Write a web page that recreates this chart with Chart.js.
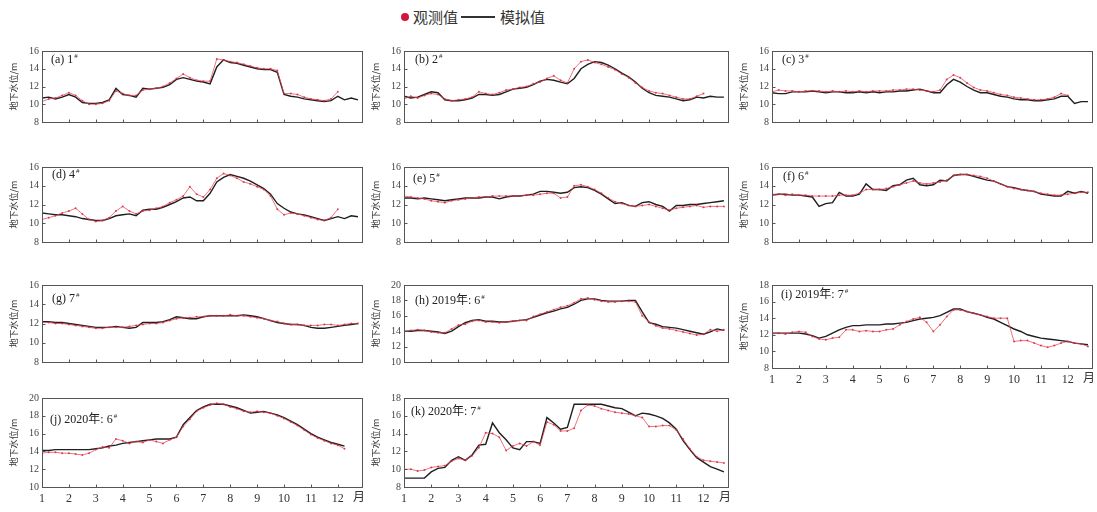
<!DOCTYPE html>
<html>
<head>
<meta charset="utf-8">
<script src="https://cdn.jsdelivr.net/npm/chart.js@4/dist/chart.umd.min.js"></script>
<style>
  html, body { margin: 0; padding: 0; background: #fff; }
  body { width: 1097px; height: 512px; position: relative; overflow: hidden; }
  .panel { position: absolute; }
  .legend-dot { position: absolute; left: 401px; top: 13px; width: 8px; height: 8px; border-radius: 50%; background: #d0163c; }
  .legend-line { position: absolute; left: 461px; top: 16px; width: 34px; height: 2px; background: #333; }
  .legend-text { position: absolute; top: 6px; font: 15px "Noto Sans CJK SC", sans-serif; color: #333; line-height: 22px; }
</style>
</head>
<body>
<div class="legend-dot"></div>
<div class="legend-text" style="left:413px">观测值</div>
<div class="legend-line"></div>
<div class="legend-text" style="left:500px">模拟值</div>

<script>
// Sampling positions along the year, in month units (1 = 1 January)
const MONTHS = [1, 1.25, 1.5, 1.75, 2, 2.25, 2.5, 2.75, 3, 3.25, 3.5, 3.75,
                4, 4.25, 4.5, 4.75, 5, 5.25, 5.5, 5.75, 6, 6.25, 6.5, 6.75,
                7, 7.25, 7.5, 7.75, 8, 8.25, 8.5, 8.75, 9, 9.25, 9.5, 9.75,
                10, 10.25, 10.5, 10.75, 11, 11.25, 11.5, 11.75, 12, 12.25, 12.5, 12.75];
const MONTH_TICKS = [1, 2, 3, 4, 5, 6, 7, 8, 9, 10, 11, 12];
const MONTH_UNIT = '月';
const X_END = 12.9;
const Y_TITLE = '地下水位/m';

// Groundwater level (m): simulated and observed, one pair per well
const simA = [10.7,10.8,10.6,10.8, 11.1,10.8,10.2,10.1, 10.1,10.2,10.5,11.8,
              11.1,11.0,10.8,11.8, 11.7,11.8,11.9,12.2, 12.8,13.0,12.8,12.6,
              12.5,12.3,14.2,15.0, 14.7,14.6,14.4,14.2, 14.0,13.9,13.9,13.6,
              11.1,10.9,10.8,10.6, 10.5,10.4,10.3,10.4, 10.9,10.5,10.7,10.5];
const obsA = [10.3,10.6,10.7,11.0, 11.3,11.0,10.4,10.0, 10.0,10.1,10.4,11.5,
              11.2,11.0,11.0,11.6, 11.7,11.8,12.0,12.4, 12.9,13.4,13.0,12.7,
              12.6,12.6,15.1,15.0, 14.8,14.7,14.5,14.3, 14.1,14.0,14.0,13.8,
              11.2,11.2,11.1,10.8, 10.6,10.5,10.4,10.6, 11.4,null,null,null];

const simB = [10.9,10.7,10.8,11.1, 11.4,11.3,10.5,10.4, 10.4,10.5,10.7,11.1,
              11.1,11.0,11.1,11.4, 11.7,11.8,11.9,12.2, 12.6,12.8,12.7,12.5,
              12.3,12.9,14.0,14.5, 14.8,14.7,14.4,14.0, 13.5,13.1,12.5,11.8,
              11.3,11.0,10.9,10.8, 10.6,10.4,10.5,10.8, 10.7,10.9,10.8,10.8];
const obsB = [10.6,10.9,10.7,11.0, 11.2,11.1,10.6,10.4, 10.5,10.6,10.8,11.4,
              11.2,11.1,11.3,11.6, 11.7,11.9,12.0,12.3, 12.5,12.9,13.2,12.7,
              12.4,14.0,14.8,15.0, 14.7,14.5,14.2,13.9, 13.4,13.0,12.4,11.9,
              11.5,11.3,11.2,11.0, 10.8,10.6,10.6,10.9, 11.2,null,null,null];

const simC = [11.3,11.2,11.2,11.4, 11.4,11.4,11.5,11.4, 11.3,11.4,11.4,11.3,
              11.3,11.4,11.3,11.4, 11.3,11.4,11.4,11.5, 11.5,11.6,11.7,11.5,
              11.3,11.3,12.2,12.8, 12.5,12.0,11.6,11.3, 11.3,11.1,10.9,10.8,
              10.6,10.5,10.5,10.4, 10.4,10.5,10.6,10.9, 10.9,10.1,10.3,10.3];
const obsC = [11.4,11.6,11.5,11.5, 11.4,11.5,11.5,11.5, 11.4,11.5,11.4,11.5,
              11.4,11.5,11.4,11.5, 11.5,11.5,11.6,11.6, 11.7,11.7,11.6,11.5,
              11.4,11.6,12.8,13.3, 13.0,12.4,11.9,11.6, 11.5,11.3,11.1,11.0,
              10.8,10.7,10.6,10.5, 10.5,10.6,10.8,11.2, 11.0,null,null,null];

const simD = [11.1,11.0,10.9,10.9, 10.8,10.7,10.5,10.4, 10.3,10.3,10.5,10.8,
              10.9,11.0,10.8,11.4, 11.5,11.5,11.7,12.0, 12.3,12.7,12.8,12.4,
              12.4,13.2,14.4,14.9, 15.2,15.0,14.8,14.5, 14.1,13.7,13.1,12.1,
              11.6,11.2,11.0,10.9, 10.7,10.5,10.3,10.5, 10.7,10.5,10.8,10.7];
const obsD = [10.4,10.6,10.8,11.1, 11.3,11.6,11.0,10.4, 10.2,10.3,10.6,11.3,
              11.8,11.3,11.0,11.3, 11.4,11.6,11.8,12.2, 12.5,12.9,13.9,13.1,
              12.8,13.6,14.8,15.3, 15.1,14.8,14.4,14.2, 13.9,13.6,12.9,11.5,
              10.9,11.1,11.0,10.8, 10.6,10.4,10.3,10.6, 11.5,null,null,null];

const simE = [12.7,12.7,12.6,12.7, 12.6,12.5,12.4,12.5, 12.6,12.7,12.7,12.7,
              12.8,12.8,12.6,12.8, 12.9,12.9,13.0,13.1, 13.4,13.4,13.3,13.2,
              13.3,13.8,13.9,13.8, 13.5,13.1,12.6,12.1, 12.2,11.9,11.8,12.2,
              12.3,12.0,11.8,11.3, 11.9,11.9,12.0,12.0, 12.1,12.2,12.3,12.4];
const obsE = [12.9,12.8,12.7,12.6, 12.4,12.3,12.2,12.4, 12.5,12.6,12.7,12.8,
              12.8,12.9,12.9,12.9, 12.9,12.9,13.0,13.0, 13.1,13.2,13.2,12.7,
              12.8,14.0,14.1,13.9, 13.6,13.2,12.7,12.3, 12.1,11.9,11.8,11.9,
              12.0,11.8,11.6,11.4, 11.6,11.7,11.8,11.9, 11.7,11.8,11.8,11.8];

const simF = [13.0,13.1,13.1,13.0, 13.0,12.9,12.8,11.8, 12.1,12.2,13.3,12.9,
              12.9,13.1,14.2,13.6, 13.6,13.5,14.0,14.1, 14.6,14.8,14.1,14.0,
              14.1,14.6,14.5,15.1, 15.2,15.2,15.0,14.8, 14.6,14.5,14.2,13.9,
              13.8,13.6,13.5,13.4, 13.1,13.0,12.9,12.9, 13.4,13.2,13.4,13.2];
const obsF = [13.1,13.1,13.0,13.1, 13.0,13.0,12.9,12.9, 12.9,12.9,13.0,13.0,
              13.0,13.2,13.6,13.6, 13.6,13.7,13.9,14.1, 14.3,14.5,14.3,14.2,
              14.3,14.4,14.6,15.1, 15.2,15.2,15.1,15.0, 14.8,14.5,14.2,13.9,
              13.7,13.6,13.5,13.4, 13.2,13.1,13.0,13.0, 13.1,13.2,13.3,13.3];

const simG = [12.2,12.2,12.1,12.1, 12.0,11.9,11.8,11.7, 11.6,11.6,11.6,11.7,
              11.6,11.5,11.6,12.1, 12.1,12.1,12.2,12.4, 12.7,12.6,12.5,12.5,
              12.7,12.8,12.8,12.8, 12.8,12.8,12.9,12.8, 12.7,12.5,12.3,12.1,
              12.0,11.9,11.9,11.8, 11.6,11.5,11.5,11.6, 11.7,11.8,11.9,12.0];
const obsG = [12.1,12.1,12.0,12.0, 11.9,11.8,11.7,11.6, 11.5,11.5,11.6,11.6,
              11.6,11.7,11.8,11.9, 12.0,12.0,12.1,12.3, 12.5,12.6,12.6,12.7,
              12.7,12.8,12.8,12.8, 12.9,12.8,12.8,12.7, 12.6,12.5,12.3,12.2,
              12.0,11.9,11.9,11.8, 11.8,11.8,11.9,11.9, 11.8,11.9,12.0,12.0];

const simH = [14.0,14.0,14.1,14.1, 14.0,13.9,13.7,14.0, 14.6,15.1,15.4,15.5,
              15.3,15.3,15.2,15.2, 15.3,15.4,15.5,15.8, 16.1,16.4,16.6,16.9,
              17.1,17.5,18.0,18.2, 18.2,18.0,17.9,17.9, 17.9,18.0,18.0,16.5,
              15.1,14.9,14.6,14.5, 14.4,14.2,14.0,13.8, 13.6,13.9,14.3,14.1];
const obsH = [13.9,14.1,14.2,14.1, 13.9,13.8,13.8,14.3, 14.8,14.9,15.3,15.4,
              15.2,15.2,15.1,15.2, 15.3,15.4,15.4,15.9, 16.2,16.5,16.8,17.1,
              17.3,17.7,18.2,18.3, 18.1,17.9,17.8,17.8, 17.9,17.9,17.8,16.0,
              15.2,14.7,14.4,14.3, 14.1,13.9,13.7,13.5, 13.6,14.2,14.0,14.2];

const simI = [12.2,12.2,12.2,12.2, 12.2,12.1,11.9,11.6, 11.8,12.2,12.6,12.9,
              13.1,13.1,13.2,13.2, 13.2,13.3,13.3,13.4, 13.5,13.7,13.9,14.0,
              14.1,14.3,14.7,15.1, 15.1,14.8,14.6,14.4, 14.1,13.9,13.5,13.1,
              12.7,12.4,12.0,11.8, 11.6,11.5,11.4,11.3, 11.2,11.0,10.9,10.8];
const obsI = [12.1,12.2,12.1,12.3, 12.4,12.3,11.8,11.5, 11.4,11.6,11.7,12.6,
              12.6,12.4,12.5,12.4, 12.4,12.6,12.7,13.2, 13.6,13.9,14.1,13.5,
              12.4,13.2,14.2,15.0, 15.0,14.8,14.6,14.4, 14.2,14.0,14.0,14.0,
              11.2,11.3,11.3,11.0, 10.7,10.5,10.7,11.0, 11.2,11.0,10.9,10.6];

const simJ = [14.1,14.1,14.2,14.2, 14.2,14.2,14.2,14.2, 14.3,14.4,14.6,14.7,
              14.9,15.0,15.1,15.2, 15.3,15.4,15.4,15.4, 15.6,17.0,17.8,18.6,
              19.0,19.3,19.3,19.3, 19.1,18.9,18.6,18.3, 18.4,18.5,18.3,18.1,
              17.8,17.4,17.0,16.5, 16.0,15.6,15.3,15.0, 14.8,14.6,null,null];
const obsJ = [13.8,13.9,13.9,13.8, 13.8,13.7,13.6,13.8, 14.2,14.5,14.4,15.4,
              15.2,14.9,15.1,15.0, 15.3,15.1,14.9,15.3, 15.6,16.8,17.6,18.5,
              18.9,19.2,19.4,19.3, 19.0,18.8,18.5,18.4, 18.5,18.4,18.3,18.0,
              17.7,17.3,16.9,16.4, 15.9,15.5,15.2,14.9, 14.7,14.3,null,null];

const simK = [9.0,9.0,9.0,9.0, 9.7,10.1,10.2,11.0, 11.4,11.0,11.6,12.7,
              12.8,15.2,14.1,13.3, 12.4,12.2,13.1,13.1, 12.9,15.8,15.2,14.5,
              14.7,17.3,17.3,17.3, 17.3,17.3,17.1,16.9, 16.8,16.4,16.0,16.3,
              16.2,16.0,15.7,15.2, 14.5,13.2,12.2,11.3, 10.8,10.3,10.0,9.7];
const obsK = [10.0,10.0,9.8,9.9, 10.2,10.3,10.4,10.9, 11.2,11.0,11.5,12.4,
              14.1,14.0,13.6,12.1, 12.6,12.9,12.6,13.1, 12.7,15.3,15.0,14.3,
              14.3,14.6,16.6,17.2, 17.1,16.8,16.6,16.4, 16.3,16.2,16.0,15.8,
              14.8,14.8,14.9,14.9, 14.4,13.4,12.3,11.4, 11.0,10.9,10.8,10.7];

// Panel captions and y-axis ranges
const TAGS = ['(a) 1', '(b) 2', '(c) 3', '(d) 4', '(e) 5', '(f) 6', '(g) 7',
              '(h) 2019年: 6', '(i) 2019年: 7', '(j) 2020年: 6', '(k) 2020年: 7'];
const TAG_MARK = '#';
const Y_MIN = [8, 8, 8, 8, 8, 8, 8, 10, 8, 10, 8];
const Y_MAX = [16, 16, 16, 16, 16, 16, 16, 20, 18, 20, 18];
const SIM = [simA, simB, simC, simD, simE, simF, simG, simH, simI, simJ, simK];
const OBS = [obsA, obsB, obsC, obsD, obsE, obsF, obsG, obsH, obsI, obsJ, obsK];

// Page placement of each plot area (left, top, right, bottom) and caption offset
const COLS = [[42, 362], [404, 728], [772, 1092]];
const ROWS = [[50, 128], [166, 248], [284, 368], [397, 487]];
const LAYOUT = [
  { c: 0, r: 0, dx: 9,  dy: 12 }, { c: 1, r: 0, dx: 11, dy: 12 }, { c: 2, r: 0, dx: 10, dy: 12 },
  { c: 0, r: 1, dx: 10, dy: 11 }, { c: 1, r: 1, dx: 9,  dy: 15 }, { c: 2, r: 1, dx: 11, dy: 13 },
  { c: 0, r: 2, dx: 10, dy: 17 }, { c: 1, r: 2, dx: 11, dy: 19 }, { c: 2, r: 2, dx: 9,  dy: 13, labels: true },
  { c: 0, r: 3, dx: 8,  dy: 25, labels: true }, { c: 1, r: 3, dx: 7, dy: 17, labels: true }
];

const SERIF = '"Liberation Serif", "Times New Roman", serif';
const SERIF_CJK = '"Liberation Serif", "Noto Sans CJK SC", serif';
const CJK = '"Noto Sans CJK SC", sans-serif';
const X_LABEL_PAD = 5;

function toPoints(values) {
  return values.map((v, k) => ({ x: MONTHS[k], y: v }));
}

// Frame, inward tick marks, caption and month unit for each small panel
const panelDecor = {
  id: 'panelDecor',
  afterDatasetsDraw(chart, args, opts) {
    const { ctx, chartArea: a, scales: { x, y } } = chart;
    ctx.save();
    ctx.strokeStyle = '#555';
    ctx.lineWidth = 1;
    const L = Math.round(a.left) + 0.5, T = Math.round(a.top) + 0.5;
    const R = Math.round(a.right) + 0.5, B = Math.round(a.bottom) + 0.5;
    ctx.strokeRect(L, T, R - L, B - T);
    ctx.beginPath();
    MONTH_TICKS.forEach(m => {
      const px = Math.round(x.getPixelForValue(m)) + 0.5;
      ctx.moveTo(px, B); ctx.lineTo(px, B - 3);
    });
    y.ticks.forEach(t => {
      const py = Math.round(y.getPixelForValue(t.value)) + 0.5;
      ctx.moveTo(L, py); ctx.lineTo(L + 3, py);
    });
    ctx.stroke();

    ctx.fillStyle = '#222';
    ctx.textBaseline = 'alphabetic';
    ctx.textAlign = 'left';
    ctx.font = '12px ' + SERIF_CJK;
    const tx = a.left + opts.dx, ty = a.top + opts.dy;
    ctx.fillText(opts.tag, tx, ty);
    const w = ctx.measureText(opts.tag).width;
    ctx.font = '7px ' + SERIF;
    ctx.fillText(TAG_MARK, tx + w + 1, ty - 5);

    if (opts.unit) {
      ctx.fillStyle = '#333';
      ctx.font = '12px ' + SERIF_CJK;
      ctx.textAlign = 'center';
      ctx.textBaseline = 'top';
      ctx.fillText(MONTH_UNIT, x.getPixelForValue(X_END) - 3, a.bottom + X_LABEL_PAD);
    }
    ctx.restore();
  }
};

function makePanel(i) {
  const lay = LAYOUT[i];
  const [left, right] = COLS[lay.c];
  const [top, bottom] = ROWS[lay.r];
  const padL = 34, padT = 8, padR = 8;
  const xH = lay.labels ? 22 : 3;
  const w = (right - left) + padL + padR;
  const h = (bottom - top) + padT + xH;

  const wrap = document.createElement('div');
  wrap.className = 'panel';
  wrap.style.left = (left - padL) + 'px';
  wrap.style.top = (top - padT) + 'px';
  const cv = document.createElement('canvas');
  cv.width = w; cv.height = h;
  cv.style.width = w + 'px'; cv.style.height = h + 'px';
  wrap.appendChild(cv);
  document.body.appendChild(wrap);

  const yTicks = [];
  for (let v = Y_MIN[i]; v <= Y_MAX[i]; v += 2) yTicks.push(v);

  new Chart(cv, {
    type: 'line',
    data: {
      datasets: [
        {
          label: '观测值',
          data: toPoints(OBS[i]),
          borderColor: 'rgba(228, 70, 80, 0.75)',
          borderWidth: 1,
          pointRadius: 1,
          pointBorderWidth: 0,
          pointBackgroundColor: 'rgba(215, 30, 60, 0.8)',
          spanGaps: false,
          order: 0
        },
        {
          label: '模拟值',
          data: toPoints(SIM[i]),
          borderColor: '#1f1f1f',
          borderWidth: 1.4,
          pointRadius: 0,
          spanGaps: false,
          order: 1
        }
      ]
    },
    options: {
      responsive: false,
      animation: false,
      devicePixelRatio: 1,
      layout: { padding: { top: padT, right: padR, left: 0, bottom: 0 } },
      plugins: {
        legend: { display: false },
        tooltip: { enabled: false },
        panelDecor: { tag: TAGS[i], dx: lay.dx, dy: lay.dy, unit: !!lay.labels }
      },
      scales: {
        x: {
          type: 'linear',
          min: 1,
          max: X_END,
          afterBuildTicks: s => { s.ticks = MONTH_TICKS.map(v => ({ value: v })); },
          afterFit: s => { s.height = xH; },
          grid: { display: false, drawTicks: false },
          border: { display: false },
          ticks: {
            display: !!lay.labels,
            autoSkip: false,
            maxRotation: 0,
            padding: X_LABEL_PAD,
            color: '#333',
            font: { family: SERIF, size: 12 },
            callback: v => String(v)
          }
        },
        y: {
          min: Y_MIN[i],
          max: Y_MAX[i],
          afterBuildTicks: s => { s.ticks = yTicks.map(v => ({ value: v })); },
          afterFit: s => { s.width = padL; },
          grid: { display: false, drawTicks: false },
          border: { display: false },
          ticks: { padding: 3, color: '#444', font: { family: SERIF, size: 10 } },
          title: {
            display: true,
            text: Y_TITLE,
            color: '#333',
            padding: { top: 0, bottom: 0 },
            font: { family: CJK, size: 9 }
          }
        }
      }
    },
    plugins: [panelDecor]
  });
}

for (let i = 0; i < SIM.length; i++) makePanel(i);
</script>
</body>
</html>
